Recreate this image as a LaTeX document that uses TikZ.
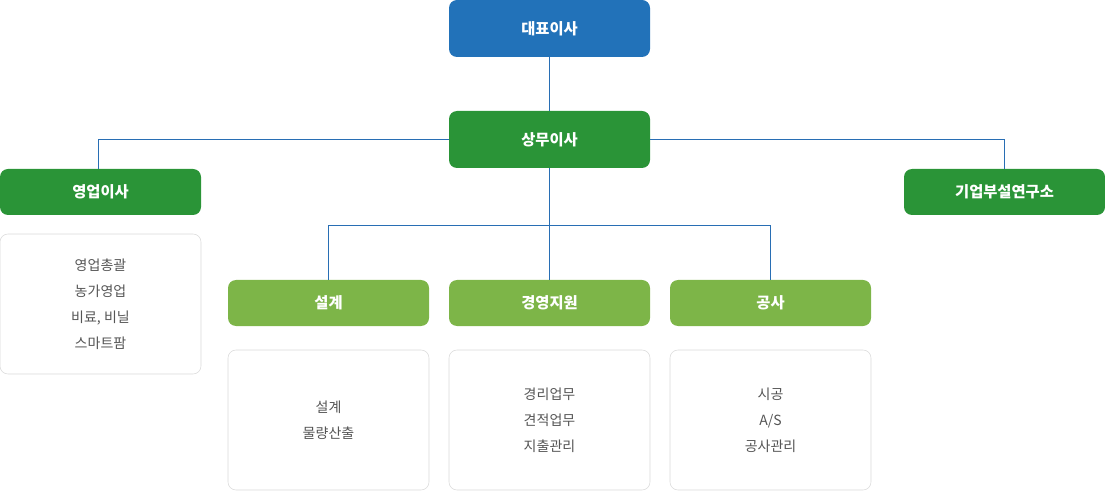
\documentclass[tikz,border=0pt]{standalone}
\usepackage{fontspec}
\setmainfont{Noto Sans CJK KR}
\usetikzlibrary{positioning}
\definecolor{ceoblue}{RGB}{34,114,185}
\definecolor{darkgreen}{RGB}{42,148,55}
\definecolor{lightgreen}{RGB}{125,181,72}
\definecolor{linkblue}{RGB}{40,110,180}
\definecolor{descgray}{RGB}{85,85,85}
\tikzset{
  head/.style={rounded corners=6pt, minimum width=201*0.75pt, text=white,
    font=\fontsize{11.5pt}{13pt}\selectfont\bfseries, inner sep=0pt},
  desc/.style={rounded corners=6pt, draw={rgb,255:red,218;green,218;blue,218}, fill=white,
    minimum width=201*0.75pt, minimum height=140*0.75pt, align=center, text=descgray,
    font=\fontsize{10.5pt}{19.5pt}\selectfont, inner sep=0pt},
  link/.style={draw=linkblue, line width=0.6pt}
}
\begin{document}
\begin{tikzpicture}[x=0.75pt,y=-0.75pt]
\useasboundingbox (0,0) rectangle (1105,491);

% heads
\node (ceo) [head, fill=ceoblue, minimum height=57*0.75pt] at (549.5,28.5) {대표이사};
\node (exec) [head, fill=darkgreen, minimum height=57*0.75pt] at (549.5,139.5) {상무이사};
\node (sales) [head, fill=darkgreen, minimum height=46*0.75pt] at (100.5,192) {영업이사};
\node (lab) [head, fill=darkgreen, minimum height=46*0.75pt] at (1004.5,192) {기업부설연구소};
\node (design) [head, fill=lightgreen, minimum height=46*0.75pt] at (328.5,303) {설계};
\node (mgmt) [head, fill=lightgreen, minimum height=46*0.75pt] at (549.5,303) {경영지원};
\node (build) [head, fill=lightgreen, minimum height=46*0.75pt] at (770.5,303) {공사};

% descriptions
\node (salesd) [desc] at (100.5,304) {영업총괄\\농가영업\\비료, 비닐\\스마트팜};
\node (designd) [desc] at (328.5,420) {설계\\물량산출};
\node (mgmtd) [desc] at (549.5,420) {경리업무\\견적업무\\지출관리};
\node (buildd) [desc] at (770.5,420) {시공\\A/S\\공사관리};

% connectors
\coordinate (split) at (549.5,225);
\draw [link] (ceo) -- (exec);
\draw [link] (exec.west) -| (98,169);
\draw [link] (exec.east) -| (1004,169);
\draw [link] (exec) -- (mgmt);
\draw [link] (split) -| (design.north);
\draw [link] (split) -| (build.north);
\end{tikzpicture}
\end{document}
